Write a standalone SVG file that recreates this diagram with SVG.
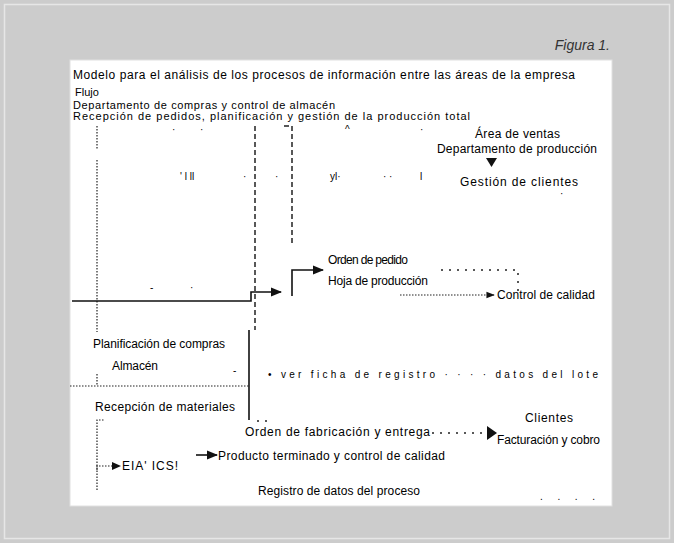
<svg xmlns="http://www.w3.org/2000/svg" width="674" height="543" viewBox="0 0 674 543">
<style>
text{font-family:"Liberation Sans",Arial,sans-serif;font-size:12px;fill:#000}
.fig{font-style:italic;font-size:14px;fill:#333}
.sm{font-size:11px}
.mk{font-size:10px}
.dot{stroke:#222;stroke-width:1.2;stroke-dasharray:1.5 1.5;fill:none}
.dash{stroke:#222;stroke-width:1.5;stroke-dasharray:5 3;fill:none}
.sol{stroke:#111;stroke-width:1.6;fill:none}
.sdash{stroke:#222;stroke-width:1.5;stroke-dasharray:2 6;fill:none}
</style>
<defs>
<marker id="ah" viewBox="0 0 10 10" refX="9" refY="5" markerWidth="7" markerHeight="7" orient="auto"><path d="M0,1 L10,5 L0,9 z" fill="#111"/></marker>
</defs>
<rect x="0" y="0" width="674" height="543" fill="#cccccc"/>
<rect x="4.5" y="4.5" width="665" height="534" fill="none" stroke="#e6e6e6" stroke-width="1.5"/>
<text class="fig" x="610" y="50" text-anchor="end">Figura 1.</text>
<rect x="70" y="60" width="542" height="446" fill="#ffffff" stroke="#e0e0e0"/>
<g id="title"><text x="73" y="79" textLength="502">Modelo para el análisis de los procesos de información entre las áreas de la empresa</text></g>
<g id="n-flujo"><text x="75" y="96" class="sm">Flujo</text>
<text x="73" y="108.5" class="sm" textLength="262">Departamento de compras y control de almacén</text>
<text x="73" y="120" class="sm" textLength="397">Recepción de pedidos, planificación y gestión de la producción total</text></g>
<g id="connectors">
<path class="dot" d="M97,126 V150 M97,160 V332 M97,374 V386"/>
<path class="dash" d="M255,126 V330"/>
<path class="sol" d="M249,330 V420"/>
<path class="dash" d="M284,126 H292 V245"/>
<path class="sol" d="M292,296 V270 H323" marker-end="url(#ah)"/>
<path class="sol" d="M72,301 H251 V292 H281" marker-end="url(#ah)"/>
<path class="dot" d="M400,295 H494" marker-end="url(#ah)"/>
<path class="sdash" d="M441,270 H518 V292"/>
<path class="dot" d="M70,386 H249"/>
<path class="dot" d="M97,490 V420 H104"/>
<path class="dot" d="M97,470 V466 H113"/>
<path d="M112,462 L121,466 L112,470 z" fill="#111"/>
<path class="sol" d="M196,455 H217" marker-end="url(#ah)"/>
<path class="sdash" d="M432,433 H482"/>
<path d="M487,426 L497,433 L487,440 z" fill="#111"/>
<path d="M486,158 L497,158 L491.5,167 z" fill="#111"/>
<path class="sdash" d="M257,421 H270"/>
</g>
<g id="marks">
<text class="mk" x="172" y="133">·</text><text class="mk" x="200" y="133">·</text><text class="mk" x="345" y="133">^</text><text class="mk" x="420" y="133">·</text>
<text class="mk" x="180" y="180">' l ll</text><text class="mk" x="243" y="180">·</text><text class="mk" x="275" y="180">·</text><text class="mk" x="330" y="180">yl·</text><text class="mk" x="383" y="180">· ·</text><text class="mk" x="420" y="180">l</text>
<text class="mk" x="150" y="291">-</text><text class="mk" x="190" y="291">·</text>
<text class="mk" x="233" y="374">-</text>
<text class="mk" x="560" y="197">·</text>
</g>
<g id="n-right"><text x="475" y="138" textLength="85">Área de ventas</text>
<text x="437" y="153" textLength="160">Departamento de producción</text>
<text x="460" y="186" textLength="118">Gestión de clientes</text></g>
<g id="n-mid"><text x="328" y="264" textLength="80">Orden de pedido</text>
<text x="328" y="285" textLength="100">Hoja de producción</text></g>
<g id="n-out"><text x="497" y="299" textLength="98">Control de calidad</text></g>
<g id="n-left1"><text x="93" y="348" textLength="132">Planificación de compras</text>
<text x="112" y="370" textLength="46">Almacén</text></g>
<g id="n-row"><text x="268" y="378" textLength="330" class="mk">• ver ficha de registro          · ·        ·        · datos del lote</text></g>
<g id="n-left2"><text x="95" y="411" textLength="140">Recepción de materiales</text></g>
<g id="n-mid2"><text x="245" y="436" textLength="185">Orden de fabricación y entrega</text>
<text x="218" y="460" textLength="227">Producto terminado y control de calidad</text>
<text x="122" y="470" textLength="56">EIA' ICS!</text>
<text x="258" y="495" textLength="162">Registro de datos del proceso</text></g>
<g id="n-right2"><text x="525" y="422" textLength="48">Clientes</text>
<text x="497" y="444" textLength="103">Facturación y cobro</text>
<text x="540" y="500" class="mk" textLength="55">. . . .</text></g>
</svg>
